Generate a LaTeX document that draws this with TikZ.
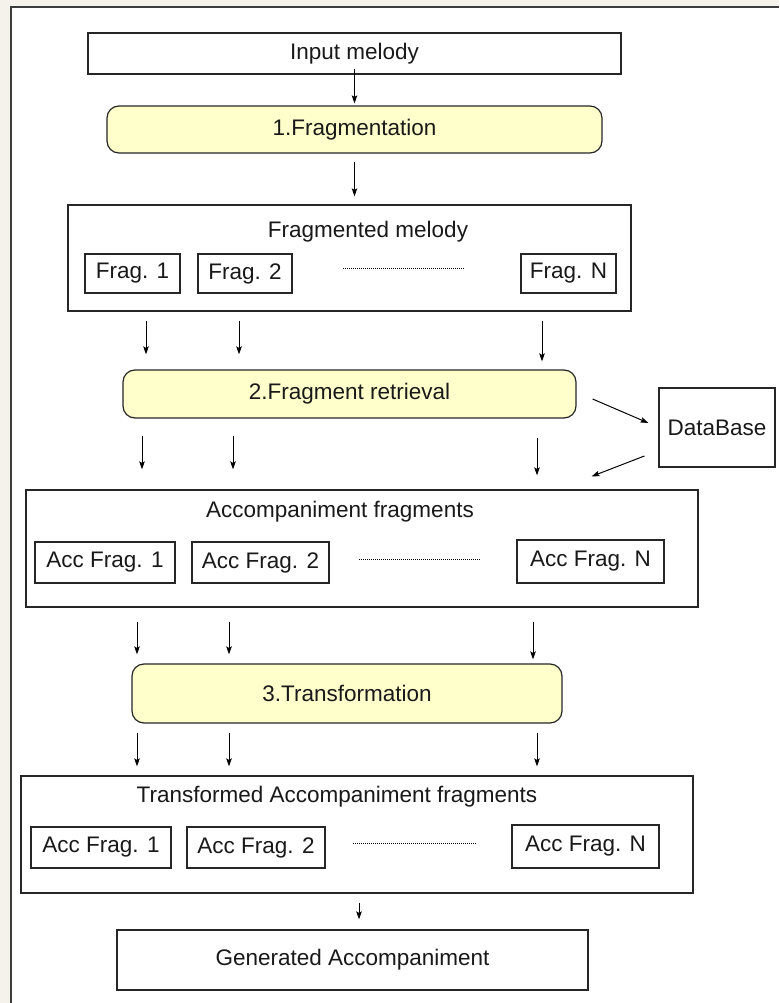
\documentclass[tikz,border=0pt]{standalone}
\usepackage{fontspec}
\setmainfont{Liberation Sans}
\usetikzlibrary{arrows.meta,calc}
\definecolor{pagebg}{HTML}{F4F2EA}
\definecolor{framecol}{HTML}{3C3C3C}
\definecolor{linecol}{HTML}{262626}
\definecolor{stepfill}{HTML}{FFFFCC}
\begin{document}
\begin{tikzpicture}[x=1pt,y=-1pt,
  every node/.style={font=\fontsize{22.5}{25}\selectfont, text=black!90, inner sep=0pt},
  box/.style={draw=linecol, line width=1.2pt, fill=white},
  stepbox/.style={draw=linecol, line width=1.2pt, fill=stepfill, rounded corners=12pt},
  label/.style={},
  arr/.style={draw=black, line width=1pt, -{Stealth[length=8pt,width=5.5pt,inset=1.5pt]}},
  dots/.style={draw=black, line width=0.9pt, dash pattern=on 1.2pt off 0.8pt}]

  % page and frame
  \useasboundingbox (0,0) rectangle (779,1003);
  \fill[pagebg] (0,0) rectangle (779,1003);
  \fill[white] (11,7) rectangle (779,1003);
  \draw[framecol, line width=2pt] (11,1003) -- (11,7) -- (779,7);

  % input and fragmentation
  \node[box, minimum width=533pt, minimum height=41pt] (input) at (354.5,53.5) {Input melody};
  \node[stepbox, minimum width=495pt, minimum height=47pt] (frag) at (354.5,129.5) {1.Fragmentation};

  % fragmented melody
  \node[box, minimum width=563pt, minimum height=106pt] (fm) at (349.5,258) {};
  \node[label] (fmt) at (368,232) {Fragmented melody};
  \node[box, minimum width=95pt, minimum height=39pt] (f1) at (132.5,273.5) {Frag. 1};
  \node[box, minimum width=94pt, minimum height=39pt] (f2) at (245,273.5) {Frag. 2};
  \node[box, minimum width=95pt, minimum height=39pt] (fn) at (568.5,273.5) {Frag. N};
  \coordinate (fd1) at (343,268);
  \coordinate (fd2) at (464,268);
  \draw[dots] (fd1) -- (fd2);

  % retrieval and database
  \node[stepbox, minimum width=453pt, minimum height=48pt] (retr) at (349.5,394) {2.Fragment retrieval};
  \node[box, minimum width=116pt, minimum height=79pt] (db) at (717,427.5) {DataBase};

  % accompaniment fragments
  \node[box, minimum width=672pt, minimum height=117pt] (acc) at (362,548.5) {};
  \node[label] (acct) at (340,512) {Accompaniment fragments};
  \node[box, minimum width=140pt, minimum height=41pt] (a1) at (105,562.5) {Acc Frag. 1};
  \node[box, minimum width=137pt, minimum height=41pt] (a2) at (260.5,562.5) {Acc Frag. 2};
  \node[box, minimum width=147pt, minimum height=43pt] (an) at (590.5,561.5) {Acc Frag. N};
  \coordinate (ad1) at (359,559);
  \coordinate (ad2) at (480,559);
  \draw[dots] (ad1) -- (ad2);

  % transformation
  \node[stepbox, minimum width=430pt, minimum height=59pt] (trans) at (347,693.5) {3.Transformation};

  % transformed accompaniment fragments
  \node[box, minimum width=672pt, minimum height=117pt] (tacc) at (357,834.5) {};
  \node[label] (tacct) at (337,797) {Transformed Accompaniment fragments};
  \node[box, minimum width=140pt, minimum height=41pt] (t1) at (101,847.5) {Acc Frag. 1};
  \node[box, minimum width=138pt, minimum height=41pt] (t2) at (256,847.5) {Acc Frag. 2};
  \node[box, minimum width=147pt, minimum height=43pt] (tn) at (585.5,846.5) {Acc Frag. N};
  \coordinate (td1) at (353,843);
  \coordinate (td2) at (476,843);
  \draw[dots] (td1) -- (td2);

  % result
  \node[box, minimum width=471pt, minimum height=60pt] (gen) at (352.5,960) {Generated Accompaniment};

  % arrow columns
  \coordinate (c0) at (354.5,0);
  \coordinate (c1) at (146,0);
  \coordinate (c2) at (239,0);
  \coordinate (c3) at (542,0);
  \coordinate (d1) at (142,0);
  \coordinate (d2) at (233,0);
  \coordinate (d3) at (537,0);
  \coordinate (e1) at (137,0);
  \coordinate (e2) at (229,0);
  \coordinate (e3) at (533,0);
  \coordinate (g3) at (537,0);
  \coordinate (h1) at (359,0);

  % connectors
  \draw[arr, shorten >=2pt] ([yshift=6pt]input.south) -- (frag.north);
  \draw[arr, shorten <=8pt, shorten >=8pt] (frag.south -| c0) -- (fm.north -| c0);

  \draw[arr, shorten <=9pt, shorten >=15pt] (fm.south -| c1) -- (retr.north -| c1);
  \draw[arr, shorten <=9pt, shorten >=15pt] (fm.south -| c2) -- (retr.north -| c2);
  \draw[arr, shorten <=9pt, shorten >=8pt] (fm.south -| c3) -- (retr.north -| c3);

  \draw[arr] ([shift={(16,5)}]retr.east) -- ([shift={(-10,-4.5)}]db.west);
  \draw[arr] ([shift={(-14,28.5)}]db.west) -- ([shift={(-107,-13)}]acc.north east);

  \draw[arr, shorten <=17pt, shorten >=20pt] (retr.south -| d1) -- (acc.north -| d1);
  \draw[arr, shorten <=17pt, shorten >=20pt] (retr.south -| d2) -- (acc.north -| d2);
  \draw[arr, shorten <=19pt, shorten >=14pt] (retr.south -| d3) -- (acc.north -| d3);

  \draw[arr, shorten <=14pt, shorten >=9pt] (acc.south -| e1) -- (trans.north -| e1);
  \draw[arr, shorten <=14pt, shorten >=9pt] (acc.south -| e2) -- (trans.north -| e2);
  \draw[arr, shorten <=14pt, shorten >=4pt] (acc.south -| e3) -- (trans.north -| e3);

  \draw[arr, shorten <=9pt, shorten >=9pt] (trans.south -| e1) -- (tacc.north -| e1);
  \draw[arr, shorten <=9pt, shorten >=9pt] (trans.south -| e2) -- (tacc.north -| e2);
  \draw[arr, shorten <=9pt, shorten >=9pt] (trans.south -| g3) -- (tacc.north -| g3);

  \draw[arr, shorten <=9pt, shorten >=10pt] (tacc.south -| h1) -- (gen.north -| h1);
\end{tikzpicture}
\end{document}
